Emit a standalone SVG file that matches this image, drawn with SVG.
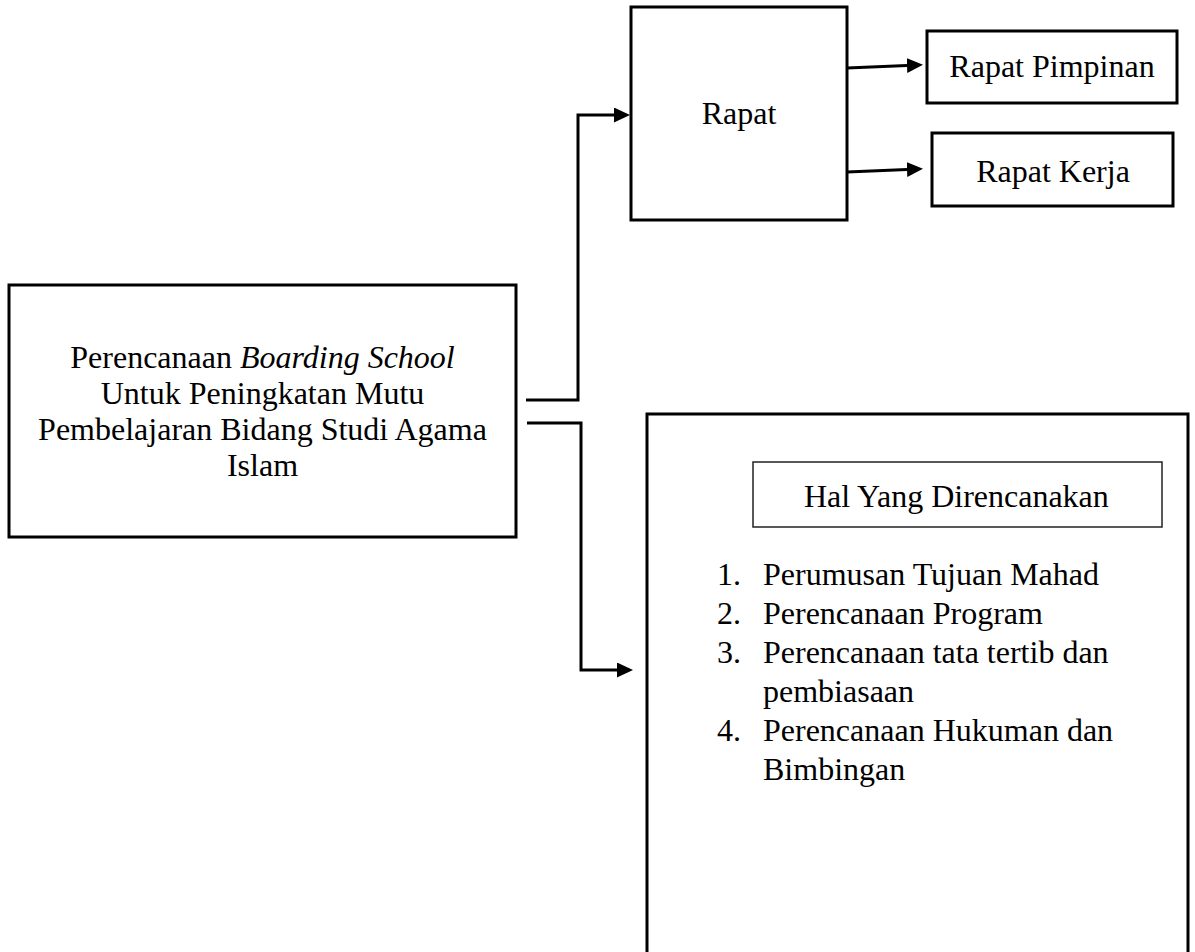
<svg xmlns="http://www.w3.org/2000/svg" width="1195" height="952" viewBox="0 0 1195 952">
<style>
  .box { fill: #fff; stroke: #000; stroke-width: 3; }
  .thin { fill: #fff; stroke: #222; stroke-width: 1.5; }
  .t { font-family: "Liberation Serif", "Times New Roman", serif; font-size: 32px; fill: #000; }
  .c { text-anchor: middle; }
  .conn { fill: none; stroke: #000; stroke-width: 3; }
</style>
<defs>
  <marker id="arr" markerUnits="userSpaceOnUse" markerWidth="17" markerHeight="16" refX="0" refY="7.5" orient="auto">
    <path d="M0,0 L16,7.5 L0,15 z" fill="#000"/>
  </marker>
</defs>
<rect width="1195" height="952" fill="#fff"/>

<g id="node-main">
  <rect class="box" x="9" y="285" width="507" height="252"/>
  <text class="t c" x="262.5" y="368">Perencanaan <tspan font-style="italic">Boarding School</tspan></text>
  <text class="t c" x="262.5" y="404">Untuk Peningkatan Mutu</text>
  <text class="t c" x="262.5" y="440">Pembelajaran Bidang Studi Agama</text>
  <text class="t c" x="262.5" y="476">Islam</text>
</g>

<g id="node-rapat">
  <rect class="box" x="631" y="7" width="216" height="213"/>
  <text class="t c" x="739" y="124">Rapat</text>
</g>

<g id="node-rapat-pimpinan">
  <rect class="box" x="927" y="31" width="250" height="72"/>
  <text class="t c" x="1052" y="77">Rapat Pimpinan</text>
</g>

<g id="node-rapat-kerja">
  <rect class="box" x="932" y="133" width="241" height="73"/>
  <text class="t c" x="1053" y="182">Rapat Kerja</text>
</g>

<g id="node-hal">
  <rect class="box" x="647" y="414" width="541" height="560"/>
  <rect class="thin" x="753" y="462" width="409" height="65"/>
  <text class="t" x="804" y="507">Hal Yang Direncanakan</text>
  <text class="t" x="717" y="585">1.</text>
  <text class="t" x="763" y="585">Perumusan Tujuan Mahad</text>
  <text class="t" x="717" y="624">2.</text>
  <text class="t" x="763" y="624">Perencanaan Program</text>
  <text class="t" x="717" y="663">3.</text>
  <text class="t" x="763" y="663">Perencanaan tata tertib dan</text>
  <text class="t" x="763" y="702">pembiasaan</text>
  <text class="t" x="717" y="741">4.</text>
  <text class="t" x="763" y="741">Perencanaan Hukuman dan</text>
  <text class="t" x="763" y="780">Bimbingan</text>
</g>

<g id="connectors">
  <path class="conn" d="M526,400 H578 V115 H614" marker-end="url(#arr)"/>
  <path class="conn" d="M527,423 H581 V670 H617" marker-end="url(#arr)"/>
  <path class="conn" d="M847,68 L907,65.5" marker-end="url(#arr)"/>
  <path class="conn" d="M847,172 L907,169.5" marker-end="url(#arr)"/>
</g>
</svg>
